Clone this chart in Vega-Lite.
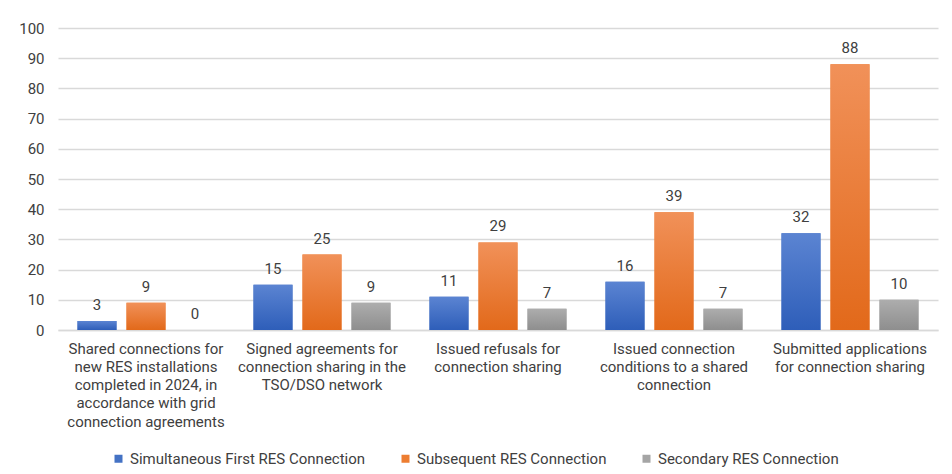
{
  "$schema": "https://vega.github.io/schema/vega-lite/v6.json",
  "width": 880,
  "height": 302,
  "autosize": {"type": "none"},
  "padding": {"left": 58, "top": 28, "right": 14, "bottom": 144},
  "background": "white",
  "config": {
    "font": "Roboto",
    "view": {"stroke": null},
    "axis": {"labelColor": "#404040", "labelFont": "Roboto"},
    "legend": {"labelColor": "#404040", "labelFont": "Roboto"}
  },
  "data": {
    "values": [
      {"category": "Shared connections for new RES installations completed in 2024, in accordance with grid connection agreements", "series": "Simultaneous First RES Connection", "value": 3},
      {"category": "Shared connections for new RES installations completed in 2024, in accordance with grid connection agreements", "series": "Subsequent RES Connection", "value": 9},
      {"category": "Shared connections for new RES installations completed in 2024, in accordance with grid connection agreements", "series": "Secondary RES Connection", "value": 0},
      {"category": "Signed agreements for connection sharing in the TSO/DSO network", "series": "Simultaneous First RES Connection", "value": 15},
      {"category": "Signed agreements for connection sharing in the TSO/DSO network", "series": "Subsequent RES Connection", "value": 25},
      {"category": "Signed agreements for connection sharing in the TSO/DSO network", "series": "Secondary RES Connection", "value": 9},
      {"category": "Issued refusals for connection sharing", "series": "Simultaneous First RES Connection", "value": 11},
      {"category": "Issued refusals for connection sharing", "series": "Subsequent RES Connection", "value": 29},
      {"category": "Issued refusals for connection sharing", "series": "Secondary RES Connection", "value": 7},
      {"category": "Issued connection conditions to a shared connection", "series": "Simultaneous First RES Connection", "value": 16},
      {"category": "Issued connection conditions to a shared connection", "series": "Subsequent RES Connection", "value": 39},
      {"category": "Issued connection conditions to a shared connection", "series": "Secondary RES Connection", "value": 7},
      {"category": "Submitted applications for connection sharing", "series": "Simultaneous First RES Connection", "value": 32},
      {"category": "Submitted applications for connection sharing", "series": "Subsequent RES Connection", "value": 88},
      {"category": "Submitted applications for connection sharing", "series": "Secondary RES Connection", "value": 10}
    ]
  },
  "encoding": {
    "x": {
      "field": "category",
      "type": "nominal",
      "sort": null,
      "title": null,
      "scale": {"paddingInner": 0, "paddingOuter": 0},
      "axis": {
        "labelAngle": 0,
        "labelFontSize": 15,
        "labelLineHeight": 18.3,
        "labelPadding": 11,
        "labelBaseline": "top",
        "labelLimit": 400,
        "ticks": false,
        "domainColor": "#d9d9d9",
        "domainWidth": 1.5,
        "labelExpr": "datum.value == 'Shared connections for new RES installations completed in 2024, in accordance with grid connection agreements' ? ['Shared connections for', 'new RES installations', 'completed in 2024, in', 'accordance with grid', 'connection agreements'] : datum.value == 'Signed agreements for connection sharing in the TSO/DSO network' ? ['Signed agreements for', 'connection sharing in the', 'TSO/DSO network'] : datum.value == 'Issued refusals for connection sharing' ? ['Issued refusals for', 'connection sharing'] : datum.value == 'Issued connection conditions to a shared connection' ? ['Issued connection', 'conditions to a shared', 'connection'] : ['Submitted applications', 'for connection sharing']"
      }
    },
    "xOffset": {
      "field": "series",
      "type": "nominal",
      "scale": {"domain": ["Simultaneous First RES Connection", "Subsequent RES Connection", "Secondary RES Connection"], "paddingInner": 0.204, "paddingOuter": 0.398}
    },
    "y": {
      "field": "value",
      "type": "quantitative",
      "title": null,
      "scale": {"domain": [0, 100], "nice": false},
      "axis": {
        "values": [0, 10, 20, 30, 40, 50, 60, 70, 80, 90, 100],
        "grid": true,
        "gridColor": "#d9d9d9",
        "gridWidth": 1.5,
        "domain": false,
        "ticks": false,
        "labelPadding": 14,
        "labelFontSize": 15
      }
    }
  },
  "layer": [
    {
      "mark": {"type": "bar"},
      "encoding": {
        "color": {
          "field": "series",
          "type": "nominal",
          "scale": {"domain": ["Simultaneous First RES Connection", "Subsequent RES Connection", "Secondary RES Connection"], "range": ["#4472C4", "#ED7D31", "#A5A5A5"]},
          "legend": {
            "orient": "none",
            "legendX": 53,
            "legendY": 423,
            "direction": "horizontal",
            "title": null,
            "symbolType": "square",
            "symbolSize": 64,
            "labelFontSize": 15,
            "labelOffset": 4,
            "columnPadding": 32,
            "labelLimit": 400
          }
        }
      }
    },
    {
      "transform": [{"filter": "datum.series == 'Simultaneous First RES Connection'"}],
      "mark": {"type": "bar", "color": {"gradient": "linear", "x1": 0, "y1": 0, "x2": 0, "y2": 1, "stops": [{"offset": 0, "color": "#5B84D2"}, {"offset": 1, "color": "#2E5EB9"}]}}
    },
    {
      "transform": [{"filter": "datum.series == 'Subsequent RES Connection'"}],
      "mark": {"type": "bar", "color": {"gradient": "linear", "x1": 0, "y1": 0, "x2": 0, "y2": 1, "stops": [{"offset": 0, "color": "#F19159"}, {"offset": 1, "color": "#E2691A"}]}}
    },
    {
      "transform": [{"filter": "datum.series == 'Secondary RES Connection'"}],
      "mark": {"type": "bar", "color": {"gradient": "linear", "x1": 0, "y1": 0, "x2": 0, "y2": 1, "stops": [{"offset": 0, "color": "#ADADAD"}, {"offset": 1, "color": "#8E8E8E"}]}}
    },
    {
      "mark": {"type": "text", "baseline": "alphabetic", "dy": -11, "fontSize": 15, "color": "#404040"},
      "encoding": {"text": {"field": "value", "type": "quantitative"}}
    }
  ]
}
